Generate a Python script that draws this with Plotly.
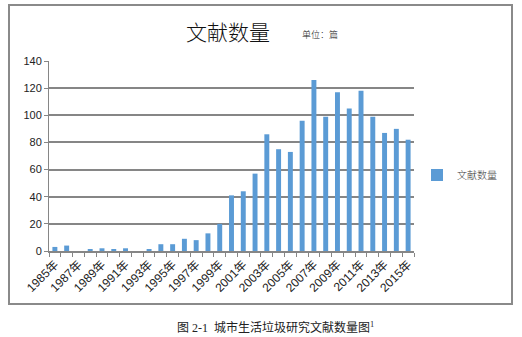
import plotly.graph_objects as go

years = list(range(1985, 2016))
counts = [3, 4, 0, 1, 2, 1, 2, 0, 1, 5, 5, 9, 8, 13, 20, 41, 44, 57, 86, 75, 73,
          96, 126, 99, 117, 105, 118, 99, 87, 90, 82]
categories = [f"{y}年" for y in years]
tick_text = [c if i % 2 == 0 else "" for i, c in enumerate(categories)]
y_ticks = [0, 20, 40, 60, 80, 100, 120, 140]

W, H = 522, 337
L, R, T, B = 49, 108, 61, 86
pw, ph = W - L - R, H - T - B

def px(x):
    return (x - L) / pw

def py(y):
    return (H - B - y) / ph

fig = go.Figure()
fig.add_trace(go.Bar(
    x=categories, y=counts, name="文献数量",
    marker=dict(color="#5B9BD5", line=dict(width=0)),
))

fig.update_layout(
    width=W, height=H,
    margin=dict(l=L, r=R, t=T, b=B),
    paper_bgcolor="white", plot_bgcolor="white",
    bargap=0.58,
    showlegend=True,
    legend=dict(x=px(417), y=py(175), xanchor="left", yanchor="middle",
                font=dict(family="Noto Sans CJK SC", size=10, color="#404040", weight=300),
                itemwidth=30, bgcolor="rgba(0,0,0,0)"),
    font=dict(family="Liberation Sans, Noto Sans CJK SC", size=11, color="#222"),
    xaxis=dict(
        type="category",
        tickmode="array", tickvals=categories, ticktext=tick_text,
        tickangle=-45, tickson="boundaries",
        ticks="outside", ticklen=4, tickcolor="#868686",
        showline=True, linecolor="#868686", linewidth=1.5,
        showgrid=False,
        tickfont=dict(family="Liberation Sans, Noto Sans CJK SC", size=12, color="#222"),
    ),
    yaxis=dict(
        range=[0, 140], tickvals=y_ticks,
        ticks="outside", ticklen=4, tickcolor="#868686",
        showline=True, linecolor="#868686", linewidth=1,
        showgrid=True, gridcolor="#868686", gridwidth=1.5,
        zeroline=False,
        tickfont=dict(family="Liberation Sans", size=11, color="#222"),
    ),
)

# Title and unit
fig.add_annotation(text="文献数量", xref="paper", yref="paper",
                   x=px(228), y=py(31), xanchor="center", yanchor="middle",
                   showarrow=False,
                   font=dict(family="Noto Sans CJK SC", size=21, color="#111", weight=300))
fig.add_annotation(text="单位：篇", xref="paper", yref="paper",
                   x=px(300), y=py(34), xanchor="left", yanchor="middle",
                   showarrow=False,
                   font=dict(family="Noto Sans CJK SC", size=9, color="#222", weight=300))
# Caption
fig.add_annotation(text="图 2-1  城市生活垃圾研究文献数量图<sup>1</sup>",
                   xref="paper", yref="paper",
                   x=px(275), y=py(327), xanchor="center", yanchor="middle",
                   showarrow=False,
                   font=dict(family="Liberation Serif, Noto Sans CJK SC", size=12, color="#222"))
# Chart border
fig.add_shape(type="rect", xref="paper", yref="paper",
              x0=px(9), x1=px(512), y0=py(304), y1=py(5),
              line=dict(color="#8a8a8a", width=2), layer="below")

fig.write_html("out.html")
